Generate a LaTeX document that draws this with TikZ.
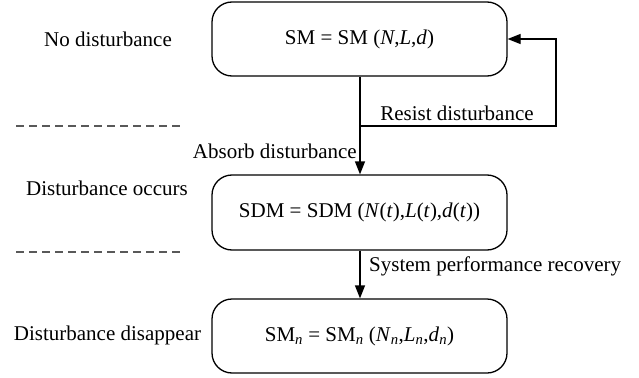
\documentclass[tikz,border=0pt]{standalone}
\usepackage{fontspec}
\setmainfont{Liberation Serif}
\usetikzlibrary{arrows.meta}
\tikzset{
  statebox/.style={draw=black, line width=1.3pt, rounded corners=20pt, minimum width=295pt, minimum height=74pt, inner sep=0pt, font=\fontsize{21}{24}\selectfont},
  lbl/.style={inner sep=0pt, font=\fontsize{21}{24}\selectfont},
  flow/.style={draw=black, line width=1.3pt, -{Triangle[length=13pt,width=10pt]}},
  sep/.style={draw=black!65, line width=1.2pt, dash pattern=on 8pt off 5pt}
}
\begin{document}
\begin{tikzpicture}[x=1pt,y=-1pt]
\useasboundingbox (0,0) rectangle (639,377);
\node[statebox] (b1) at (359.5,39) {SM = SM (\textit{N},\textit{L},\textit{d})};
\node[statebox, minimum height=75pt] (b2) at (359.5,212.5) {SDM = SDM (\textit{N}(\textit{t}),\textit{L}(\textit{t}),\textit{d}(\textit{t}))};
\node[statebox] (b3) at (359.5,336) {SM\textsubscript{\textit{n}} = SM\textsubscript{\textit{n}} (\textit{N}\textsubscript{\textit{n}},\textit{L}\textsubscript{\textit{n}},\textit{d}\textsubscript{\textit{n}})};
\node[lbl] (l1) at (108,39) {No disturbance};
\node[lbl] (l2) at (107,188) {Disturbance occurs};
\node[lbl] (l3) at (107.5,335) {Disturbance disappear};
\coordinate (d1a) at (16,126);
\coordinate (d1b) at (184,126);
\coordinate (d2a) at (16,252);
\coordinate (d2b) at (184,252);
\draw[sep] (d1a) -- (d1b);
\draw[sep] (d2a) -- (d2b);
\coordinate (fb) at (360,126);
\coordinate (fr1) at (556,126);
\coordinate (fr2) at (556,39);
\draw[flow] (b1.south -| fb) -- (b2.north -| fb);
\draw[flow] (fb) -- (fr1) -- (fr2) -- (b1.east);
\draw[flow] (b2.south -| fb) -- (b3.north -| fb);
\node[lbl] (t1) at (457,113) {Resist disturbance};
\node[lbl, anchor=east] (t2) at (357,151) {Absorb disturbance};
\node[lbl, anchor=west] (t3) at (369,266) {System performance recovery};
\end{tikzpicture}
\end{document}
